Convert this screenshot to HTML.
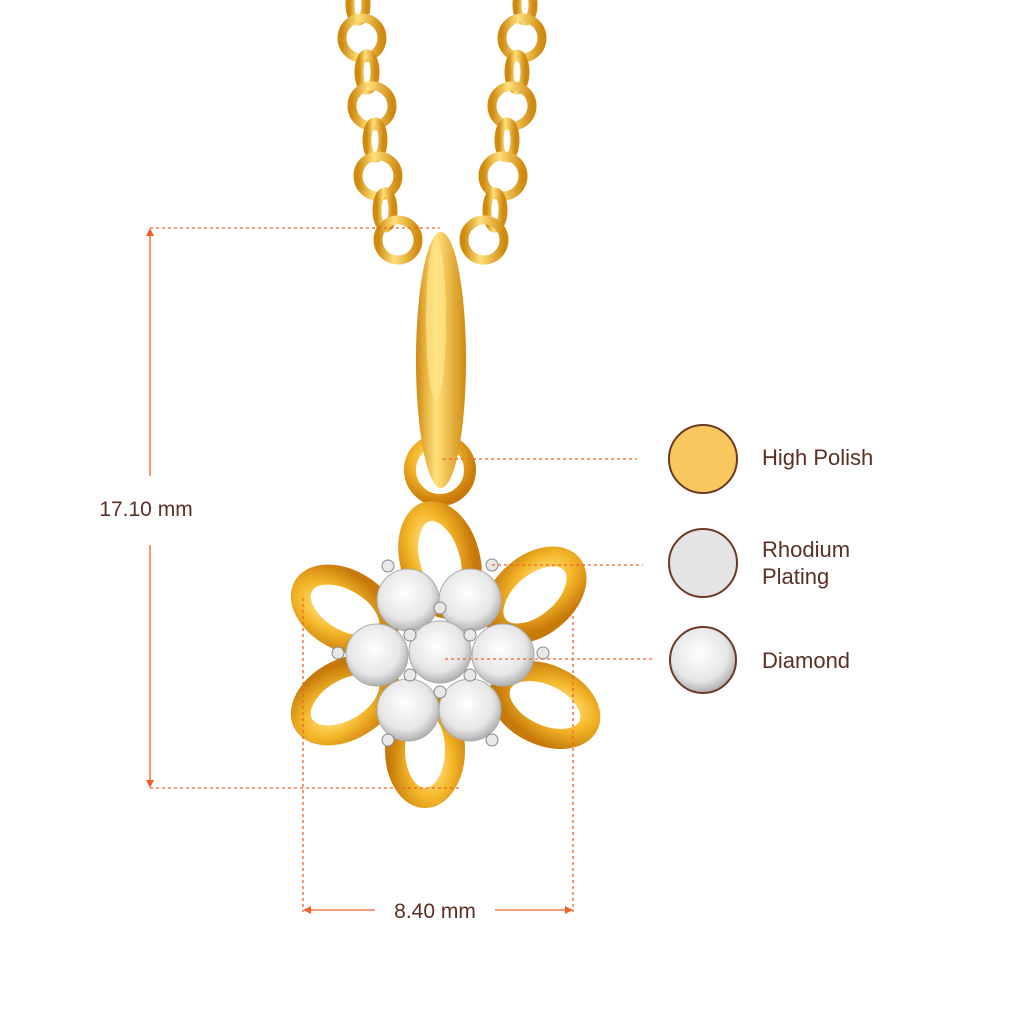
<!DOCTYPE html>
<html><head><style>
html,body{margin:0;padding:0;background:#fff;}
svg{display:block;}
text{font-family:"Liberation Sans",sans-serif;fill:#5a3024;}
</style></head><body>
<svg width="1024" height="1024" viewBox="0 0 1024 1024" xmlns="http://www.w3.org/2000/svg">
<defs>
<radialGradient id="g" cx="40%" cy="35%" r="70%">
<stop offset="0" stop-color="#fff0a0"/><stop offset="0.5" stop-color="#f5b82a"/><stop offset="1" stop-color="#c77a0a"/>
</radialGradient>
<linearGradient id="gl" x1="0" x2="1">
<stop offset="0" stop-color="#d08a10"/><stop offset="0.4" stop-color="#ffe07a"/><stop offset="1" stop-color="#d08a10"/>
</linearGradient>
<radialGradient id="d" cx="45%" cy="40%" r="60%">
<stop offset="0" stop-color="#ffffff"/><stop offset="0.7" stop-color="#e6e6e6"/><stop offset="1" stop-color="#b0b0b0"/>
</radialGradient>
</defs>

<g fill="none" stroke="url(#gl)" stroke-width="9">
<ellipse cx="358" cy="5" rx="8" ry="16"/>
<circle cx="362" cy="38" r="20"/><ellipse cx="367" cy="72" rx="8" ry="18"/>
<circle cx="372" cy="106" r="20"/><ellipse cx="375" cy="140" rx="8" ry="18"/>
<circle cx="378" cy="176" r="20"/><ellipse cx="385" cy="210" rx="8" ry="18"/>
<circle cx="398" cy="240" r="20"/>
<ellipse cx="525" cy="5" rx="8" ry="16"/>
<circle cx="522" cy="38" r="20"/><ellipse cx="517" cy="72" rx="8" ry="18"/>
<circle cx="512" cy="106" r="20"/><ellipse cx="507" cy="140" rx="8" ry="18"/>
<circle cx="503" cy="176" r="20"/><ellipse cx="495" cy="210" rx="8" ry="18"/>
<circle cx="484" cy="240" r="20"/>
</g>
<circle cx="440" cy="470" r="30" fill="none" stroke="url(#g)" stroke-width="12"/>
<ellipse cx="441" cy="360" rx="25" ry="128" fill="url(#gl)"/>
<ellipse cx="436" cy="320" rx="10" ry="80" fill="#ffe58a" opacity="0.7"/>
<g fill="none" stroke="url(#g)" stroke-width="20">
<ellipse cx="440" cy="560" rx="30" ry="50" transform="rotate(-15 440 560)"/>
<ellipse cx="535" cy="595" rx="30" ry="48" transform="rotate(50 535 595)"/>
<ellipse cx="545" cy="705" rx="30" ry="48" transform="rotate(115 545 705)"/>
<ellipse cx="425" cy="750" rx="30" ry="48" transform="rotate(180 425 750)"/>
<ellipse cx="345" cy="700" rx="30" ry="48" transform="rotate(240 345 700)"/>
<ellipse cx="345" cy="610" rx="30" ry="48" transform="rotate(300 345 610)"/>
</g>
<g fill="url(#d)" stroke="#aaa" stroke-width="1">
<circle cx="408" cy="600" r="31"/><circle cx="470" cy="600" r="31"/>
<circle cx="377" cy="655" r="31"/><circle cx="440" cy="652" r="31"/><circle cx="503" cy="655" r="31"/>
<circle cx="408" cy="710" r="31"/><circle cx="470" cy="710" r="31"/>
</g>
<g fill="#e8e8e8" stroke="#888" stroke-width="1">
<circle cx="492" cy="565" r="6"/><circle cx="388" cy="566" r="6"/><circle cx="338" cy="653" r="6"/><circle cx="543" cy="653" r="6"/>
<circle cx="388" cy="740" r="6"/><circle cx="492" cy="740" r="6"/><circle cx="440" cy="608" r="6"/><circle cx="410" cy="635" r="6"/><circle cx="470" cy="635" r="6"/><circle cx="410" cy="675" r="6"/><circle cx="470" cy="675" r="6"/><circle cx="440" cy="692" r="6"/>
</g>

<g stroke="#f0622a" stroke-width="1.3" fill="none">
<line x1="150" y1="232" x2="150" y2="476"/><line x1="150" y1="545" x2="150" y2="784"/>
<line x1="304" y1="910" x2="375" y2="910"/><line x1="495" y1="910" x2="572" y2="910"/>
<g stroke-dasharray="3 3">
<line x1="150" y1="228" x2="440" y2="228"/><line x1="150" y1="788" x2="462" y2="788"/>
<line x1="303" y1="598" x2="303" y2="912"/><line x1="573" y1="598" x2="573" y2="912"/>
<line x1="443" y1="459" x2="637" y2="459"/><line x1="492" y1="565" x2="643" y2="565"/>
<line x1="445" y1="659" x2="655" y2="659"/>
</g>
</g>
<g fill="#f0622a">
<path d="M150 228 L146 236 L154 236Z"/><path d="M150 788 L146 780 L154 780Z"/>
<path d="M303 910 L311 906 L311 914Z"/><path d="M573 910 L565 906 L565 914Z"/>
</g>
<text x="146" y="516" font-size="21" text-anchor="middle">17.10 mm</text>
<text x="435" y="918" font-size="21" text-anchor="middle">8.40 mm</text>

<circle cx="703" cy="459" r="34" fill="#f8c85e" stroke="#6b3a24" stroke-width="2"/>
<circle cx="703" cy="563" r="34" fill="#e4e4e4" stroke="#6b3a24" stroke-width="2"/>
<circle cx="703" cy="660" r="33" fill="url(#d)" stroke="#6b3a24" stroke-width="2"/>
<text x="762" y="465" font-size="22">High Polish</text>
<text x="762" y="557" font-size="22">Rhodium</text>
<text x="762" y="584" font-size="22">Plating</text>
<text x="762" y="668" font-size="22">Diamond</text>
</svg>
</body></html>
